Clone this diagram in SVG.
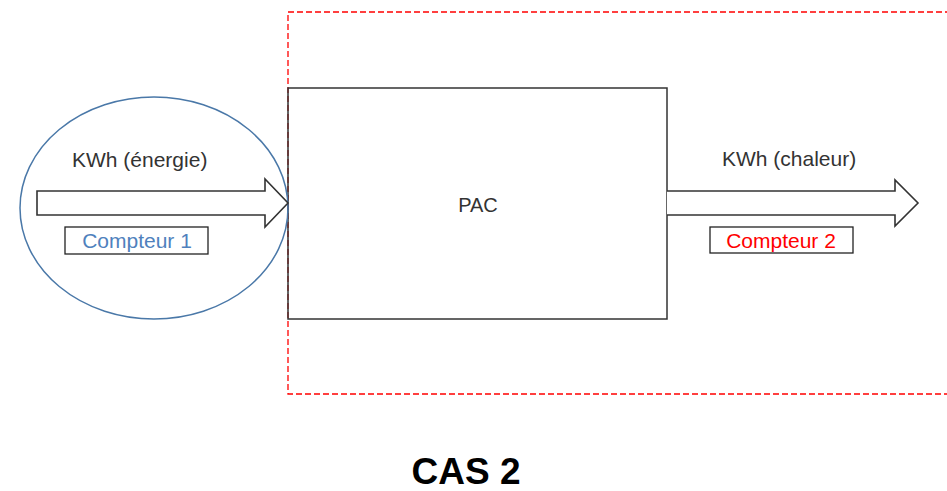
<svg xmlns="http://www.w3.org/2000/svg" width="947" height="491" viewBox="0 0 947 491">
<style>
text{font-family:"Liberation Sans","Open Sans",sans-serif;fill:#333}
.lbl{font-size:21px}
.arrow{fill:#fff;stroke:#333;stroke-width:1.6;stroke-linejoin:miter}
.cbox{fill:#fff;stroke:#222;stroke-width:1.3}
</style>
<rect width="947" height="491" fill="#fff"/>
<g id="system-boundary">
<rect x="288" y="12" width="680" height="382" fill="none" stroke="#ff0000" stroke-width="1.3" stroke-dasharray="6,3"/>
</g>
<g id="pac">
<rect x="288" y="88" width="379" height="231" fill="none" stroke="#333" stroke-width="1.5"/>
<text class="lbl" x="478" y="212" text-anchor="middle" style="font-size:20px">PAC</text>
</g>
<g id="compteur1-zone">
<ellipse cx="154" cy="208" rx="134" ry="111" fill="none" stroke="#4a78a8" stroke-width="1.5"/>
</g>
<g id="connectors">
<path class="arrow" d="M37,191 H265 V179 L288,203 L265,227 V215 H37 Z"/>
<path class="arrow" d="M667,191 H895 V180 L918,203 L895,226 V215 H667"/>
</g>
<g id="label-energie">
<text class="lbl" x="72" y="167">KWh (énergie)</text>
</g>
<g id="compteur1">
<rect class="cbox" x="65" y="227" width="143" height="27"/>
<text class="lbl" x="137" y="248" text-anchor="middle" style="fill:#4f81bd">Compteur 1</text>
</g>
<g id="label-chaleur">
<text class="lbl" x="722" y="166">KWh (chaleur)</text>
</g>
<g id="compteur2">
<rect class="cbox" x="710" y="227" width="143" height="26"/>
<text class="lbl" x="781" y="248" text-anchor="middle" style="fill:#ff0000">Compteur 2</text>
</g>
<g id="title">
<text x="466" y="484" text-anchor="middle" style="font-size:37px;font-weight:bold;fill:#000">CAS 2</text>
</g>
</svg>
